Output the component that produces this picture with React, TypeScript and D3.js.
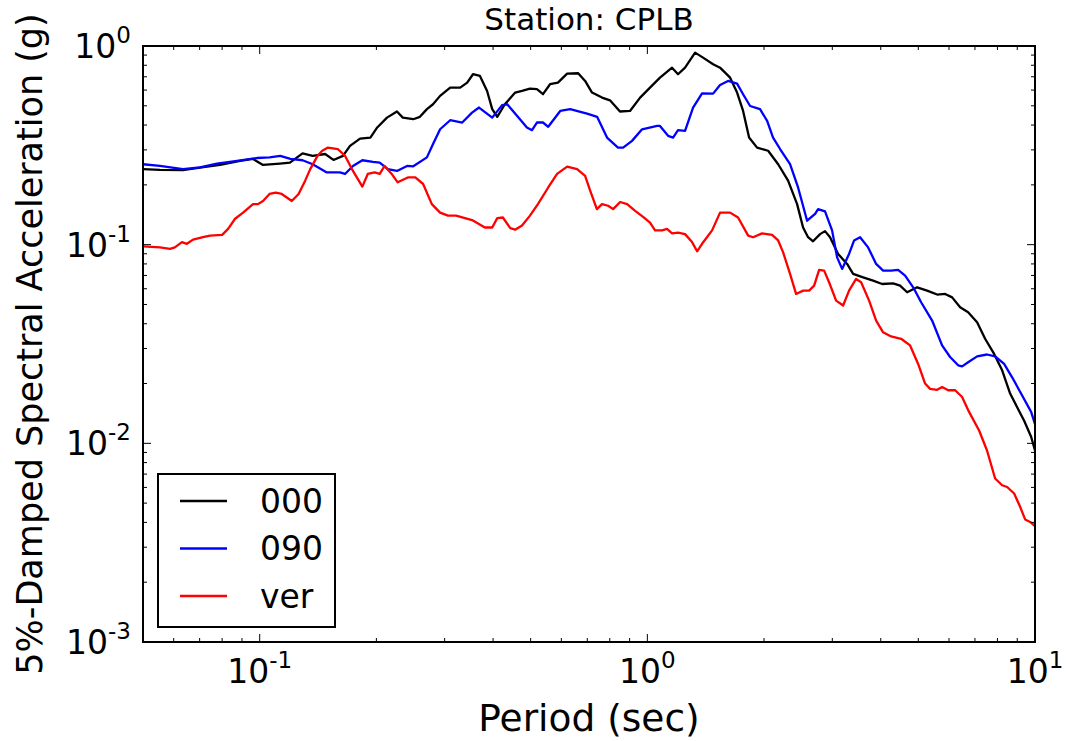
import React from "react";
import * as d3 from "d3";

// Response spectra for station CPLB (5% damping), three components.
const periods000 = [0.05, 0.0553, 0.0634, 0.0701, 0.079, 0.089, 0.0961, 0.102, 0.1128, 0.1197, 0.129, 0.137, 0.1475, 0.155, 0.164, 0.171, 0.1815, 0.193, 0.201, 0.213, 0.226, 0.234, 0.249, 0.259, 0.27, 0.28, 0.292, 0.31, 0.329, 0.343, 0.355, 0.37, 0.386, 0.398, 0.41, 0.429, 0.456, 0.475, 0.498, 0.519, 0.538, 0.561, 0.588, 0.621, 0.663, 0.691, 0.72, 0.764, 0.801, 0.85, 0.902, 0.958, 1.016, 1.078, 1.158, 1.2, 1.251, 1.328, 1.392, 1.478, 1.54, 1.635, 1.704, 1.766, 1.83, 1.919, 2.049, 2.175, 2.307, 2.434, 2.522, 2.598, 2.676, 2.79, 2.873, 2.96, 3.105, 3.276, 3.395, 3.602, 3.823, 4.033, 4.305, 4.487, 4.679, 4.966, 5.268, 5.591, 5.864, 6.113, 6.41, 6.722, 7.09, 7.435, 7.844, 8.227, 8.627, 8.994, 9.376, 9.772, 10.0];
const sa000 = [0.24, 0.238, 0.237, 0.244, 0.252, 0.264, 0.27, 0.252, 0.256, 0.259, 0.288, 0.28, 0.286, 0.267, 0.28, 0.314, 0.342, 0.346, 0.389, 0.436, 0.468, 0.436, 0.428, 0.44, 0.481, 0.509, 0.561, 0.617, 0.617, 0.654, 0.721, 0.707, 0.594, 0.481, 0.44, 0.509, 0.583, 0.594, 0.61, 0.606, 0.572, 0.642, 0.654, 0.726, 0.729, 0.667, 0.583, 0.55, 0.533, 0.468, 0.471, 0.55, 0.617, 0.693, 0.778, 0.721, 0.778, 0.926, 0.874, 0.809, 0.778, 0.693, 0.583, 0.471, 0.346, 0.308, 0.297, 0.254, 0.21, 0.16, 0.122, 0.109, 0.104, 0.113, 0.117, 0.109, 0.0898, 0.08, 0.0713, 0.0685, 0.0659, 0.0634, 0.0639, 0.0622, 0.0576, 0.061, 0.0587, 0.0561, 0.0565, 0.0543, 0.0484, 0.0457, 0.0407, 0.0336, 0.0282, 0.0233, 0.0178, 0.0152, 0.013, 0.0108, 0.0092];

const periods090 = [0.05, 0.0553, 0.0634, 0.0701, 0.0776, 0.0874, 0.0984, 0.106, 0.113, 0.12, 0.129, 0.137, 0.149, 0.161, 0.166, 0.174, 0.184, 0.196, 0.204, 0.214, 0.226, 0.24, 0.249, 0.27, 0.28, 0.292, 0.31, 0.333, 0.353, 0.368, 0.398, 0.422, 0.435, 0.461, 0.489, 0.504, 0.519, 0.538, 0.555, 0.596, 0.632, 0.699, 0.742, 0.787, 0.84, 0.866, 0.913, 0.969, 1.06, 1.078, 1.131, 1.165, 1.2, 1.251, 1.312, 1.384, 1.478, 1.54, 1.615, 1.704, 1.766, 1.841, 1.953, 2.037, 2.11, 2.2, 2.334, 2.448, 2.583, 2.709, 2.757, 2.873, 2.996, 3.087, 3.18, 3.314, 3.415, 3.538, 3.711, 3.892, 4.057, 4.254, 4.435, 4.623, 4.85, 5.085, 5.428, 5.759, 6.039, 6.335, 6.486, 6.722, 7.09, 7.52, 7.891, 8.325, 8.73, 9.265, 9.772, 10.0];
const sa090 = [0.254, 0.249, 0.24, 0.245, 0.256, 0.264, 0.273, 0.275, 0.28, 0.27, 0.266, 0.254, 0.231, 0.231, 0.227, 0.249, 0.266, 0.261, 0.259, 0.24, 0.235, 0.249, 0.248, 0.275, 0.321, 0.381, 0.423, 0.412, 0.462, 0.49, 0.436, 0.504, 0.509, 0.445, 0.389, 0.377, 0.412, 0.412, 0.392, 0.471, 0.481, 0.457, 0.44, 0.346, 0.308, 0.308, 0.333, 0.381, 0.396, 0.396, 0.353, 0.346, 0.377, 0.374, 0.49, 0.578, 0.576, 0.637, 0.667, 0.647, 0.572, 0.499, 0.481, 0.42, 0.346, 0.303, 0.254, 0.194, 0.132, 0.143, 0.151, 0.147, 0.118, 0.0863, 0.0755, 0.0898, 0.105, 0.109, 0.0969, 0.08, 0.074, 0.074, 0.0746, 0.0699, 0.061, 0.0513, 0.0415, 0.0311, 0.0272, 0.0247, 0.0244, 0.0256, 0.0274, 0.028, 0.0274, 0.0251, 0.0215, 0.0174, 0.0144, 0.0125];

const periodsVer = [0.05, 0.0553, 0.0587, 0.0604, 0.063, 0.0649, 0.0673, 0.0714, 0.0745, 0.08, 0.0829, 0.0864, 0.0906, 0.0961, 0.099, 0.102, 0.106, 0.11, 0.114, 0.121, 0.126, 0.131, 0.135, 0.141, 0.145, 0.15, 0.159, 0.166, 0.174, 0.184, 0.19, 0.198, 0.204, 0.21, 0.219, 0.227, 0.241, 0.252, 0.264, 0.278, 0.292, 0.306, 0.321, 0.353, 0.381, 0.398, 0.41, 0.424, 0.443, 0.456, 0.475, 0.498, 0.522, 0.555, 0.585, 0.621, 0.659, 0.691, 0.712, 0.741, 0.764, 0.792, 0.816, 0.851, 0.887, 0.93, 0.975, 1.016, 1.047, 1.091, 1.124, 1.158, 1.2, 1.251, 1.304, 1.344, 1.384, 1.469, 1.54, 1.635, 1.714, 1.82, 1.874, 1.977, 2.098, 2.175, 2.24, 2.334, 2.419, 2.522, 2.614, 2.693, 2.774, 2.858, 2.943, 3.069, 3.199, 3.314, 3.455, 3.56, 3.733, 3.892, 4.057, 4.254, 4.514, 4.762, 4.995, 5.206, 5.363, 5.591, 5.759, 5.97, 6.223, 6.486, 6.722, 7.175, 7.52, 7.891, 8.227, 8.475, 8.836, 9.155, 9.43, 9.714, 10.0];
const saVer = [0.0981, 0.0969, 0.0952, 0.0969, 0.103, 0.101, 0.106, 0.109, 0.111, 0.112, 0.12, 0.135, 0.145, 0.16, 0.16, 0.166, 0.18, 0.183, 0.18, 0.166, 0.18, 0.21, 0.24, 0.28, 0.297, 0.308, 0.303, 0.28, 0.235, 0.196, 0.227, 0.231, 0.227, 0.249, 0.227, 0.206, 0.218, 0.218, 0.202, 0.16, 0.145, 0.14, 0.14, 0.133, 0.122, 0.122, 0.136, 0.137, 0.121, 0.119, 0.125, 0.14, 0.16, 0.194, 0.227, 0.247, 0.24, 0.222, 0.187, 0.151, 0.16, 0.157, 0.151, 0.164, 0.16, 0.148, 0.138, 0.129, 0.118, 0.118, 0.12, 0.114, 0.115, 0.113, 0.103, 0.0926, 0.101, 0.118, 0.145, 0.145, 0.137, 0.111, 0.109, 0.114, 0.112, 0.105, 0.0915, 0.0712, 0.0565, 0.0587, 0.0587, 0.0622, 0.0746, 0.074, 0.0647, 0.0523, 0.0494, 0.0587, 0.0672, 0.0647, 0.0523, 0.0415, 0.0362, 0.0345, 0.0336, 0.0311, 0.0251, 0.02, 0.0188, 0.0186, 0.0192, 0.0185, 0.0185, 0.0171, 0.0147, 0.0116, 0.0092, 0.00665, 0.00615, 0.00603, 0.00559, 0.00479, 0.00414, 0.00402, 0.00383];

const seriesNames = ["000", "090", "ver"];
const seriesColors = ["#000000", "#0000ff", "#ff0000"];
const xMajorTicks = [0.1, 1, 10];
const xMajorExponents = ["-1", "0", "1"];
const yMajorTicks = [0.001, 0.01, 0.1, 1];
const yMajorExponents = ["-3", "-2", "-1", "0"];

const W = 1069;
const H = 741;
const left = 143;
const right = 1035;
const top = 46;
const bottom = 642;
const FONT = "'DejaVu Sans', sans-serif";

export default function App() {
  const x = d3.scaleLog().domain([0.05, 10]).range([left, right]);
  const y = d3.scaleLog().domain([0.001, 1]).range([bottom, top]);

  const series = [
    d3.zip(periods000, sa000),
    d3.zip(periods090, sa090),
    d3.zip(periodsVer, saVer),
  ];
  const line = d3
    .line<number[]>()
    .x((d) => x(d[0]))
    .y((d) => y(d[1]));

  const isMajor = (v: number) => Math.abs(Math.log10(v) - Math.round(Math.log10(v))) < 1e-9;
  const xMinor = x.ticks().filter((v) => !isMajor(v) && v > 0.05 && v < 10);
  const yMinor = y.ticks().filter((v) => !isMajor(v));

  const majorLen = 8;
  const minorLen = 4;

  return (
    <svg
      width={W}
      height={H}
      style={{ position: "absolute", left: 0, top: 0, background: "#fff" }}
      fontFamily={FONT}
    >
      <rect x={0} y={0} width={W} height={H} fill="#fff" />
      <defs>
        <clipPath id="plot-clip">
          <rect x={left} y={top} width={right - left} height={bottom - top} />
        </clipPath>
      </defs>

      <g clipPath="url(#plot-clip)">
        {series.map((s, i) => (
          <path
            key={seriesNames[i]}
            d={line(s) || ""}
            fill="none"
            stroke={seriesColors[i]}
            strokeWidth={2.3}
            strokeLinejoin="round"
          />
        ))}
      </g>

      {/* ticks on all four sides, pointing inward */}
      <g stroke="#000" strokeWidth={1}>
        {xMajorTicks.concat(xMinor).map((v) => {
          const len = isMajor(v) ? majorLen : minorLen;
          const px = x(v);
          return (
            <g key={"xt" + v}>
              <line x1={px} x2={px} y1={bottom} y2={bottom - len} />
              <line x1={px} x2={px} y1={top} y2={top + len} />
            </g>
          );
        })}
        {yMajorTicks.concat(yMinor).map((v) => {
          const len = isMajor(v) ? majorLen : minorLen;
          const py = y(v);
          return (
            <g key={"yt" + v}>
              <line x1={left} x2={left + len} y1={py} y2={py} />
              <line x1={right} x2={right - len} y1={py} y2={py} />
            </g>
          );
        })}
      </g>

      <rect
        x={left}
        y={top}
        width={right - left}
        height={bottom - top}
        fill="none"
        stroke="#000"
        strokeWidth={2}
      />

      {/* tick labels */}
      {xMajorTicks.map((v, i) => (
        <text key={"xl" + v} x={x(v)} y={683} textAnchor="middle" fontSize={33} fill="#000">
          <tspan>10</tspan>
          <tspan dy={-15} fontSize={23}>
            {xMajorExponents[i]}
          </tspan>
        </text>
      ))}
      {yMajorTicks.map((v, i) => (
        <text key={"yl" + v} x={131} y={y(v) + 12} textAnchor="end" fontSize={33} fill="#000">
          <tspan>10</tspan>
          <tspan dy={-15} fontSize={23}>
            {yMajorExponents[i]}
          </tspan>
        </text>
      ))}

      {/* titles */}
      <text x={(left + right) / 2} y={30} textAnchor="middle" fontSize={31} fill="#000">
        Station: CPLB
      </text>
      <text x={(left + right) / 2} y={731} textAnchor="middle" fontSize={37.5} fill="#000">
        Period (sec)
      </text>
      <text
        transform={`translate(42,${(top + bottom) / 2}) rotate(-90)`}
        textAnchor="middle"
        fontSize={35}
        fill="#000"
      >
        5%-Damped Spectral Acceleration (g)
      </text>

      {/* legend */}
      <g>
        <rect x={158} y={474} width={177} height={153} fill="#fff" stroke="#000" strokeWidth={2} />
        {seriesNames.map((name, i) => {
          const ly = 501 + i * 47.5;
          return (
            <g key={"lg" + name}>
              <line x1={180} x2={227} y1={ly} y2={ly} stroke={seriesColors[i]} strokeWidth={2.3} />
              <text x={260} y={ly + 11.5} fontSize={33} fill="#000">
                {name}
              </text>
            </g>
          );
        })}
      </g>
    </svg>
  );
}
